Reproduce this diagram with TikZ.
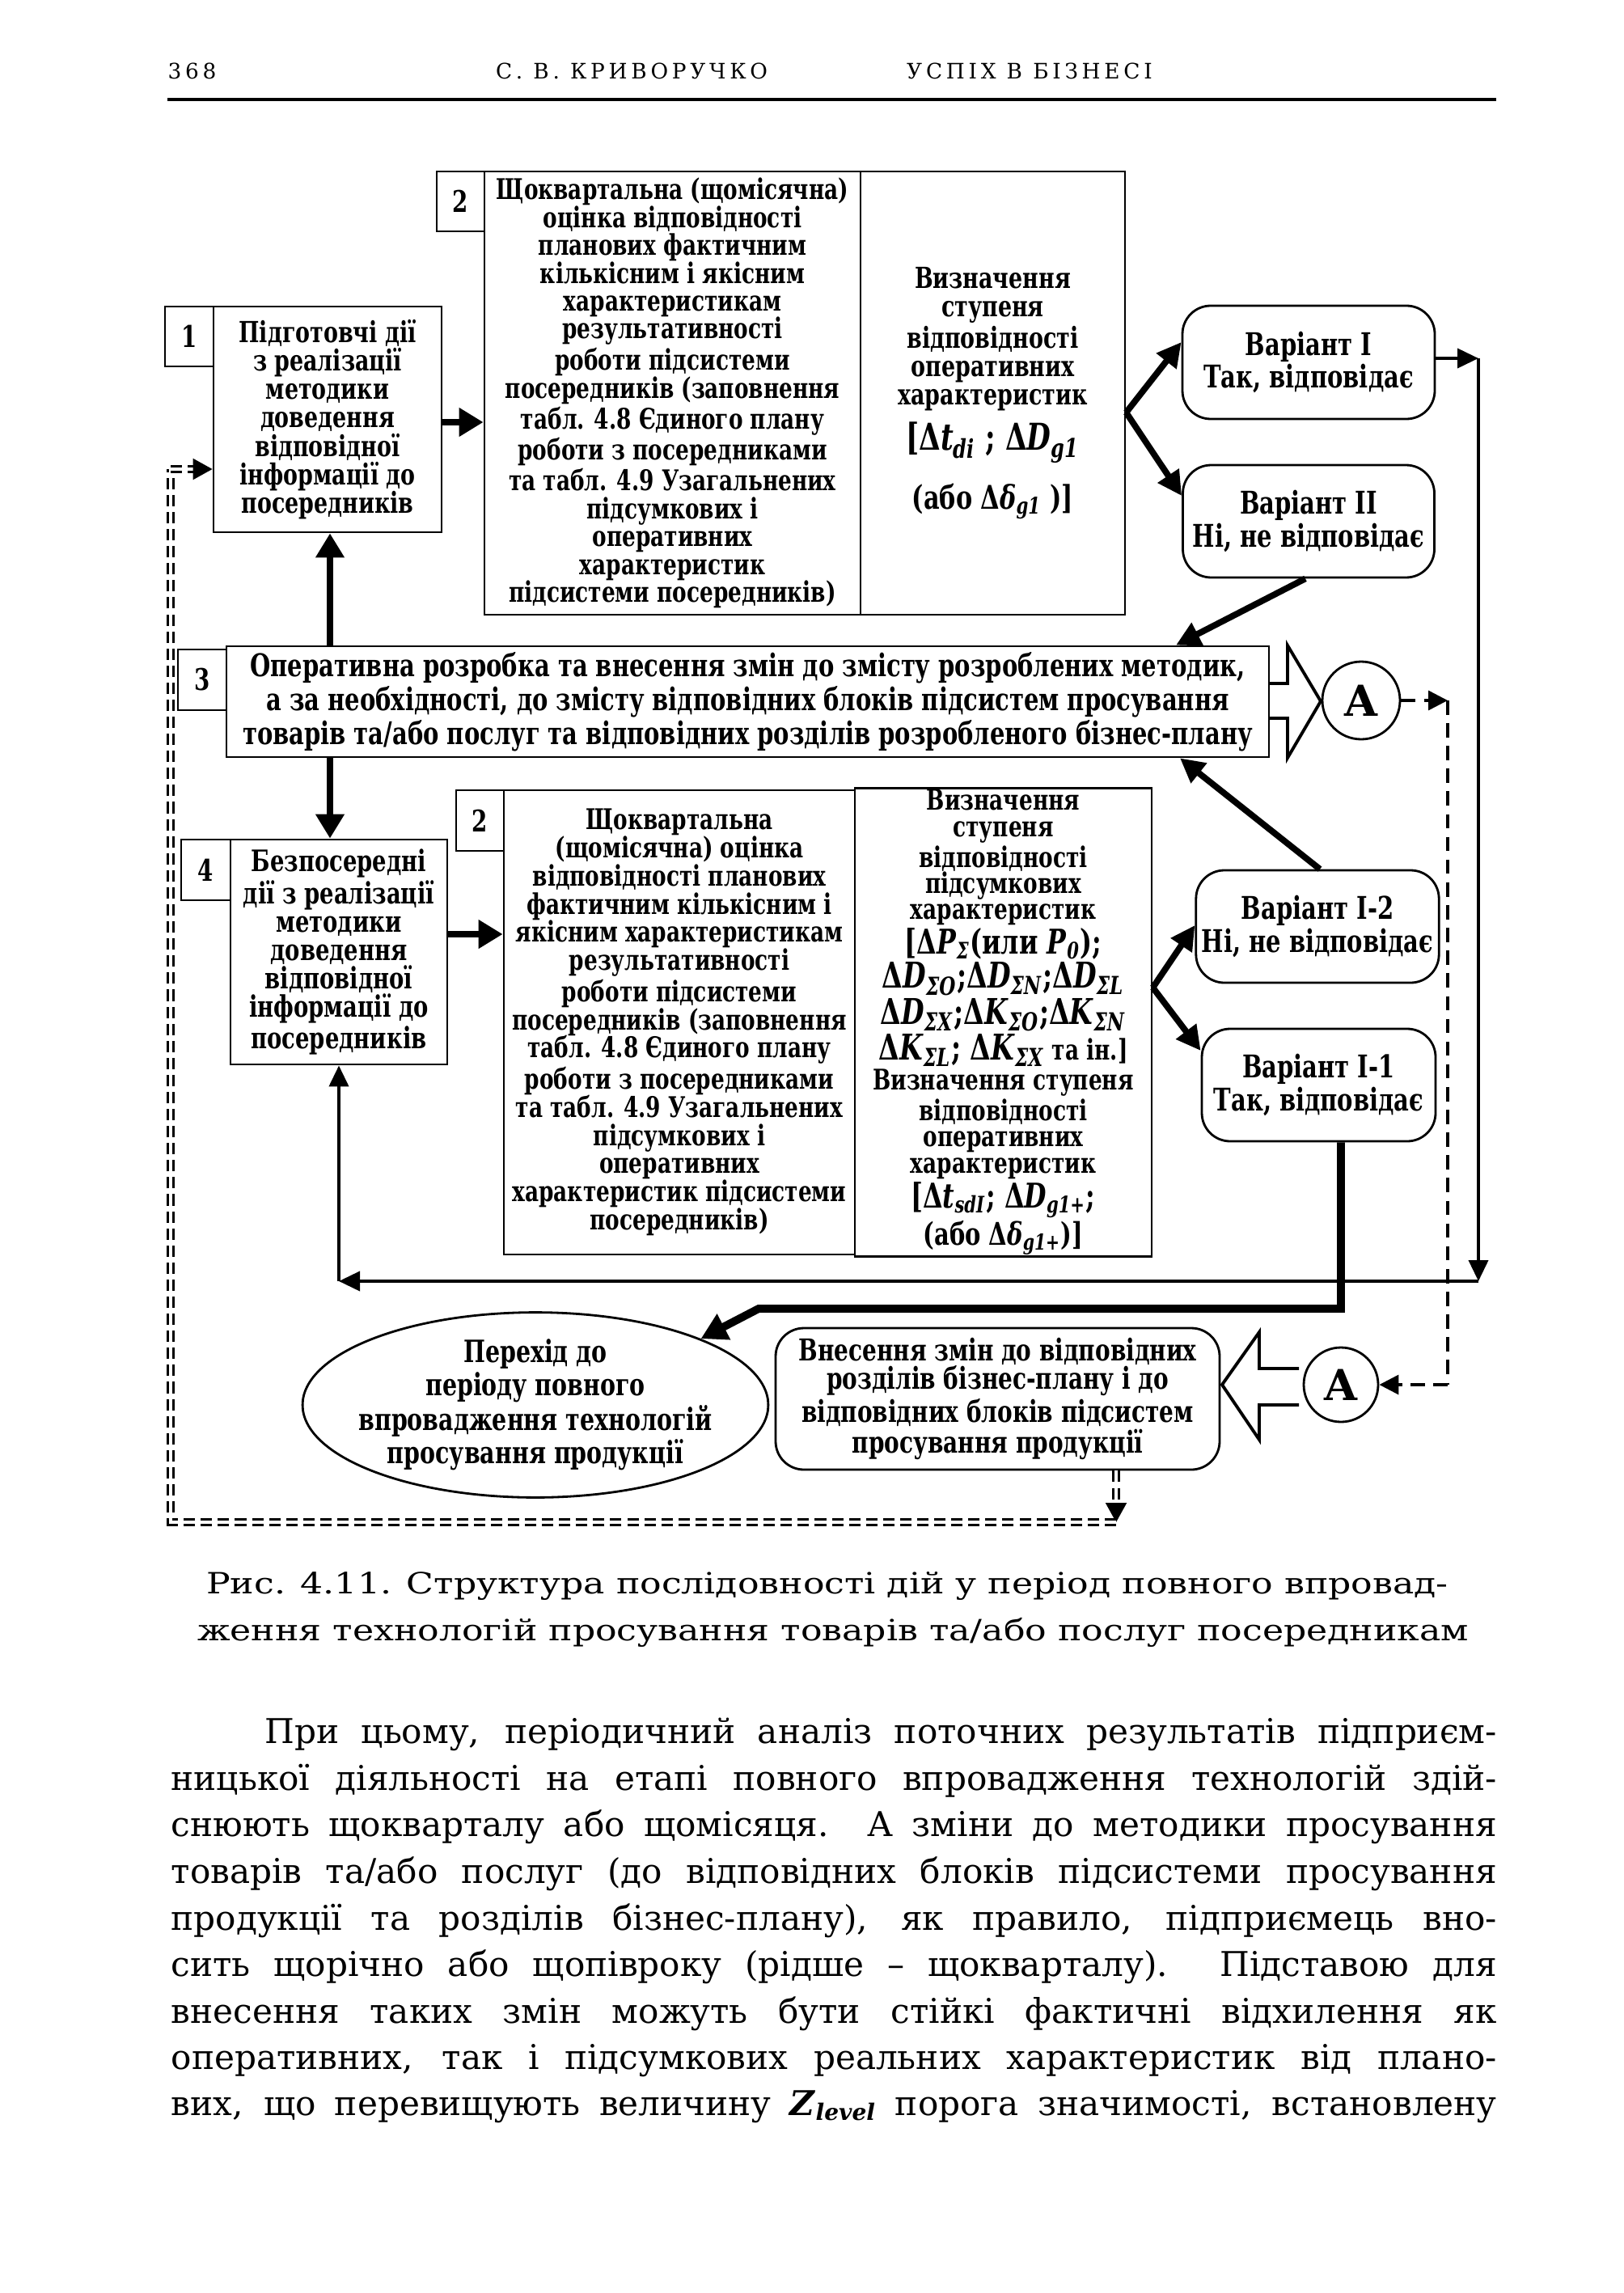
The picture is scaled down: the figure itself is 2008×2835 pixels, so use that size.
\documentclass[tikz,border=0pt]{standalone}
\usepackage{fontspec}
\setmainfont{DejaVu Serif}
\newfontfamily\boxfont[FakeStretch=0.75]{DejaVu Serif}
\newfontfamily\capfont[FakeStretch=1.22]{DejaVu Serif}
\newfontfamily\headfont[LetterSpace=18]{DejaVu Serif}
\usetikzlibrary{arrows.meta,shapes.geometric}
% bold italic variable with subscript
\newcommand{\dv}[2]{\textit{#1}\textsubscript{\textit{#2}}}

\begin{document}
\begin{tikzpicture}[
  x=0.1mm, y=-0.1mm,
  nbox/.style={draw, line width=0.8pt, inner sep=0pt,
               font=\boxfont\bfseries\fontsize{10.5}{10}\selectfont},
  tbox/.style={draw, line width=0.8pt, align=center, inner sep=2pt,
               font=\boxfont\bfseries\fontsize{10.2}{10}\selectfont},
  vbox/.style={tbox, rounded corners=3.5mm, font=\boxfont\bfseries\fontsize{11}{10.6}\selectfont},
  circA/.style={draw, circle, line width=0.8pt, inner sep=0pt,
                font=\bfseries\fontsize{15}{15}\selectfont},
  thk/.style={line width=2.4pt, -{Triangle[length=3mm,width=3.4mm]}},
  thn/.style={line width=1.1pt, -{Triangle[length=2.6mm,width=2.4mm]}},
  dbl/.style={line width=2.2pt, -{Triangle[length=3mm,width=3mm]}},
  dsh/.style={line width=1pt, dash pattern=on 5pt off 3pt},
  ddsh/.style={double, double distance=1.4pt, line width=0.6pt, dash pattern=on 4pt off 2pt},
  hdr/.style={font=\headfont\fontsize{7.5}{8}\selectfont, inner sep=0pt},
  captxt/.style={font=\capfont\fontsize{10.3}{12}\selectfont, inner sep=0pt},
  txt/.style={font=\fontsize{12}{16}\selectfont, inner sep=0pt},
]
  \useasboundingbox (0,0) rectangle (2008,2835);

  % Running head
  \node[hdr, anchor=base west] (pgno) at (207,98) {368};
  \node[hdr, anchor=base] (auth) at (781,98) {С. В. КРИВОРУЧКО};
  \node[hdr, anchor=base] (title) at (1273,98) {УСПІХ\enspace В\enspace БІЗНЕСІ};
  \draw[line width=0.9pt] (207,123) -- (1850,123);

  % Block 1
  \node[nbox, minimum width=6mm, minimum height=7.4mm] (n1) at (234,416) {1};
  \node[tbox, minimum width=28.2mm, minimum height=27.9mm] (box1) at (405,518.5)
    {Підготовчі дії\\з реалізації\\методики\\доведення\\відповідної\\інформації до\\посередників};

  % Block 2 (top)
  \node[nbox, minimum width=5.9mm, minimum height=7.4mm] (n2a) at (569.5,249) {2};
  \node[tbox, minimum width=46.5mm, minimum height=54.8mm, inner sep=1pt,
        font=\boxfont\bfseries\fontsize{10}{9.8}\selectfont] (box2l) at (831.5,486)
    {Щоквартальна (щомісячна)\\оцінка відповідності\\планових фактичним\\кількісним і якісним\\характеристикам\\результативності\\роботи підсистеми\\посередників (заповнення\\табл. 4.8 Єдиного плану\\роботи з посередниками\\та табл. 4.9 Узагальнених\\підсумкових і\\оперативних\\характеристик\\підсистеми посередників)};
  \node[tbox, minimum width=32.7mm, minimum height=54.8mm] (box2r) at (1227.5,486)
    {Визначення\\ступеня\\відповідності\\оперативних\\характеристик\\[3pt]
     {\fontsize{13}{12}\selectfont [Δ\dv{t}{di} ; Δ\dv{D}{g1}}\\[6pt]
     {\fontsize{11.5}{11}\selectfont (або Δ\dv{δ}{g1} )]}};

  % Variants I and II
  \node[vbox, minimum width=31.2mm, minimum height=14mm] (varI) at (1618,448)
    {Варіант I\\Так, відповідає};
  \node[vbox, minimum width=31.1mm, minimum height=13.9mm] (varII) at (1618,644.5)
    {Варіант II\\Ні, не відповідає};

  % Block 3
  \node[nbox, minimum width=6mm, minimum height=7.5mm] (n3) at (250,840.5) {3};
  \node[tbox, minimum width=128.9mm, minimum height=12.9mm,
        font=\boxfont\bfseries\fontsize{11}{10}\selectfont] (box3) at (924.5,867.5)
    {Оперативна розробка та внесення змін до змісту розроблених методик,\\
     а за необхідності, до змісту відповідних блоків підсистем просування\\
     товарів та/або послуг та відповідних розділів розробленого бізнес-плану};
  \draw[line width=1.1pt] (1570,845) -- (1592,845) -- (1592,798) -- (1633,867)
    -- (1592,937) -- (1592,888) -- (1570,888);
  \node[circA, minimum size=9.6mm] (A1) at (1683,866) {A};

  % Block 4
  \node[nbox, minimum width=6.1mm, minimum height=7.5mm] (n4) at (254.5,1075.5) {4};
  \node[tbox, minimum width=26.8mm, minimum height=27.8mm,
        font=\boxfont\bfseries\fontsize{10.4}{10}\selectfont] (box4) at (419,1177)
    {Безпосередні\\дії з реалізації\\методики\\доведення\\відповідної\\інформації до\\посередників};

  % Block 2 (bottom)
  \node[nbox, minimum width=5.9mm, minimum height=7.5mm] (n2b) at (593.5,1014.5) {2};
  \node[tbox, minimum width=43.4mm, minimum height=57.4mm,
        font=\boxfont\bfseries\fontsize{10}{9.9}\selectfont] (box2bl) at (840,1264)
    {Щоквартальна\\(щомісячна) оцінка\\відповідності планових\\фактичним кількісним і\\якісним характеристикам\\результативності\\роботи підсистеми\\посередників (заповнення\\табл. 4.8 Єдиного плану\\роботи з посередниками\\та табл. 4.9 Узагальнених\\підсумкових і\\оперативних\\характеристик підсистеми\\посередників)};
  \node[tbox, minimum width=36.7mm, minimum height=57.4mm, inner sep=0.5pt,
        font=\boxfont\bfseries\fontsize{10}{9.2}\selectfont] (box2br) at (1240.5,1264)
    {Визначення\\ступеня\\відповідності\\підсумкових\\характеристик\\
     {\fontsize{12}{11}\selectfont [Δ\dv{P}{Σ}(или \dv{P}{0});}\\
     {\fontsize{12.5}{11.2}\selectfont Δ\dv{D}{ΣO};Δ\dv{D}{ΣN};Δ\dv{D}{ΣL}}\\
     {\fontsize{12.5}{11.2}\selectfont Δ\dv{D}{ΣX};Δ\dv{K}{ΣO};Δ\dv{K}{ΣN}}\\
     {\fontsize{12.5}{11.2}\selectfont Δ\dv{K}{ΣL}; Δ\dv{K}{ΣX}\fontsize{10}{10}\selectfont{} та ін.]}\\
     Визначення ступеня\\відповідності\\оперативних\\характеристик\\
     {\fontsize{12}{11}\selectfont [Δ\dv{t}{sdI}; Δ\dv{D}{g1+};}\\
     {\fontsize{11}{10}\selectfont (або Δ\dv{δ}{g1+})]}};

  % Variants I-2 and I-1
  \node[vbox, minimum width=29.2mm, minimum height=13.9mm] (varI2) at (1629,1145.5)
    {Варіант I-2\\Ні, не відповідає};
  \node[vbox, minimum width=28.9mm, minimum height=13.9mm] (varI1) at (1630.5,1341.5)
    {Варіант I-1\\Так, відповідає};

  % Final row
  \node[ellipse, draw, line width=0.8pt, minimum width=55.5mm, minimum height=21.7mm,
        align=center, inner xsep=-1.5mm, inner ysep=0pt,
        font=\boxfont\bfseries\fontsize{10.8}{9.8}\selectfont]
    (perehid) at (662,1737)
    {Перехід до\\періоду повного\\впровадження технологій\\просування продукції};
  \node[vbox, minimum width=54.9mm, minimum height=17.5mm,
        font=\boxfont\bfseries\fontsize{10.6}{9.8}\selectfont] (vnes) at (1233.5,1729.5)
    {Внесення змін до відповідних\\розділів бізнес-плану і до\\відповідних блоків підсистем\\просування продукції};
  \draw[line width=1.1pt] (1606,1692) -- (1557,1692) -- (1557,1647) -- (1511,1712)
    -- (1557,1780) -- (1557,1737) -- (1606,1737);
  \node[circA, minimum size=9.2mm] (A2) at (1658,1712) {A};

  % Connectors
  \coordinate (rtop) at (1828,443);
  \coordinate (rbot) at (1828,1584);
  \coordinate (lbot) at (419,1584);
  \coordinate (ibend) at (1658,1618);
  \coordinate (ileft) at (938,1618);
  \coordinate (dtop) at (1790,866);
  \coordinate (dbot) at (1790,1712);
  \coordinate (lpB) at (1380,1882);
  \coordinate (lpL) at (211,1882);
  \coordinate (lpT) at (211,580);

  \draw[thk] (box1.east |- 0,522) -- (box2l.west |- 0,522);
  \draw[dbl] (box2r.east |- 0,510) -- (varI.west |- 0,423);
  \draw[dbl] (box2r.east |- 0,510) -- (varII.west |- 0,613);
  \draw[thn] (varI.east |- rtop) -- (rtop);
  \draw[thn] (rtop) -- (rbot);
  \draw[thn] (rbot) -- (lbot);
  \draw[thn] (lbot) -- (box4.south -| lbot);
  \draw[dbl] (varII.south -| 1614,0) -- (box3.north -| 1454,0);
  \draw[thk] (box3.north -| 408,0) -- (box1.south -| 408,0);
  \draw[thk] (box3.south -| 408,0) -- (box4.north -| 408,0);
  \draw[thk] (box4.east |- 0,1155) -- (box2bl.west |- 0,1155);
  \draw[dbl] (box2br.east |- 0,1221) -- (varI2.west |- 0,1144);
  \draw[dbl] (box2br.east |- 0,1221) -- (varI1.west |- 0,1299);
  \draw[dbl] (varI2.north -| 1632,0) -- (box3.south -| 1459,0);
  \draw[line width=2.8pt, -{Triangle[length=3.2mm,width=3.4mm]}]
    (varI1.south -| ibend) -- (ibend) -- (ileft) -- (perehid.north east);
  \draw[dsh, -{Triangle[length=2.4mm,width=2.4mm]}] (A1.east) -- (dtop);
  \draw[dsh] (dtop) -- (dbot);
  \draw[dsh, -{Triangle[length=2.4mm,width=2.4mm]}] (dbot) -- (A2.east);
  \draw[ddsh, -{Triangle[length=2.4mm,width=2.6mm]}] (vnes.south -| lpB) -- (lpB);
  \draw[ddsh] (lpB) -- (lpL) -- (lpT);
  \draw[ddsh, -{Triangle[length=2.4mm,width=2.6mm]}] (lpT) -- (box1.west |- lpT);

  % Caption
  \node[captxt, anchor=base] (cap1) at (1023,1970)
    {Рис. 4.11. Структура послідовності дій у період повного впровад-};
  \node[captxt, anchor=base] (cap2) at (1030,2028)
    {ження технологій просування товарів та/або послуг посередникам};

  % Body text, one line per node
  \node[txt, anchor=base west] (l1) at (327,2155)
    {\makebox[152.3mm][s]{При цьому, періодичний аналіз поточних результатів підприєм-}};
  \node[txt, anchor=base west] (l2) at (211,2213)
    {\makebox[163.9mm][s]{ницької діяльності на етапі повного впровадження технологій здій-}};
  \node[txt, anchor=base west] (l3) at (211,2270)
    {\makebox[163.9mm][s]{снюють щокварталу або щомісяця. А зміни до методики просування}};
  \node[txt, anchor=base west] (l4) at (211,2328)
    {\makebox[163.9mm][s]{товарів та/або послуг (до відповідних блоків підсистеми просування}};
  \node[txt, anchor=base west] (l5) at (211,2386)
    {\makebox[163.9mm][s]{продукції та розділів бізнес-плану), як правило, підприємець вно-}};
  \node[txt, anchor=base west] (l6) at (211,2443)
    {\makebox[163.9mm][s]{сить щорічно або щопівроку (рідше – щокварталу). Підставою для}};
  \node[txt, anchor=base west] (l7) at (211,2501)
    {\makebox[163.9mm][s]{внесення таких змін можуть бути стійкі фактичні відхилення як}};
  \node[txt, anchor=base west] (l8) at (211,2558)
    {\makebox[163.9mm][s]{оперативних, так і підсумкових реальних характеристик від плано-}};
  \node[txt, anchor=base west] (l9) at (211,2615)
    {\makebox[163.9mm][s]{вих, що перевищують величину \textbf{\textit{Z}}\textsubscript{\textbf{\textit{level}}} порога значимості, встановлену}};
\end{tikzpicture}
\end{document}
